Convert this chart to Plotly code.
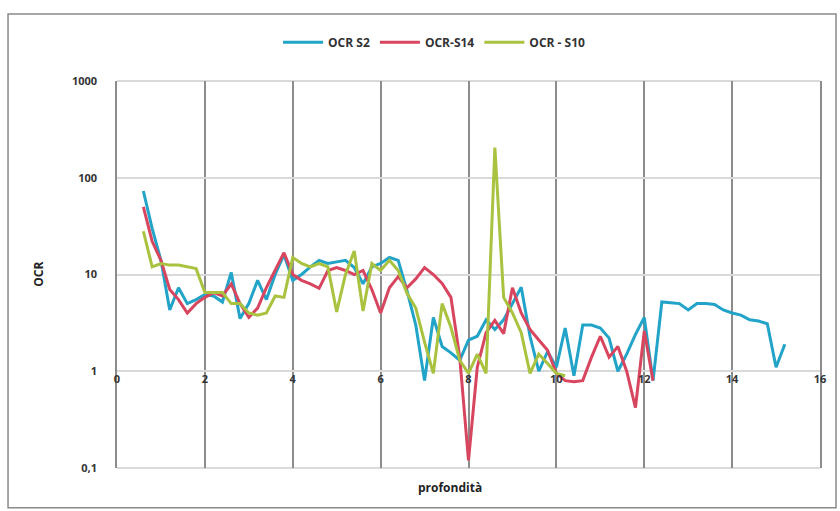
import plotly.graph_objects as go

# ---- data ----
s2_x = [0.6, 0.8, 1.0, 1.2, 1.4, 1.6, 1.8, 2.0, 2.2, 2.4, 2.6, 2.8, 3.0, 3.2, 3.4, 3.6, 3.8,
        4.0, 4.2, 4.4, 4.6, 4.8, 5.0, 5.2, 5.4, 5.6, 5.8, 6.0, 6.2, 6.4, 6.6, 6.8, 7.0, 7.2,
        7.4, 7.6, 7.8, 8.0, 8.2, 8.4, 8.6, 8.8, 9.0, 9.2, 9.4, 9.6, 9.8, 10.0, 10.2, 10.4,
        10.6, 10.8, 11.0, 11.2, 11.4, 11.6, 11.8, 12.0, 12.2, 12.4, 12.6, 12.8, 13.0, 13.2,
        13.4, 13.6, 13.8, 14.0, 14.2, 14.4, 14.6, 14.8, 15.0, 15.2]
s2_y = [73, 30, 14, 4.3, 7.3, 5.0, 5.5, 6.2, 6.0, 5.2, 10.5, 3.5, 5.0, 8.7, 5.5, 10, 16,
        8.7, 10, 12, 14, 13, 13.5, 14, 11.8, 8, 12, 13, 15, 14, 6.8, 3.0, 0.8, 3.6,
        1.8, 1.55, 1.3, 2.1, 2.3, 3.4, 2.7, 3.4, 5.0, 7.4, 2.3, 1.0, 1.6, 1.1, 2.8, 0.9,
        3.0, 3.0, 2.8, 2.2, 1.0, 1.5, 2.4, 3.6, 0.8, 5.2, 5.1, 5.0, 4.3, 5.0,
        5.0, 4.9, 4.3, 4.0, 3.8, 3.4, 3.3, 3.1, 1.1, 1.9]

s14_x = [0.6, 0.8, 1.0, 1.2, 1.4, 1.6, 1.8, 2.0, 2.2, 2.4, 2.6, 2.8, 3.0, 3.2, 3.4, 3.6, 3.8,
         4.0, 4.2, 4.4, 4.6, 4.8, 5.0, 5.2, 5.4, 5.6, 5.8, 6.0, 6.2, 6.4, 6.6, 6.8, 7.0, 7.2,
         7.4, 7.6, 7.8, 8.0, 8.2, 8.4, 8.6, 8.8, 9.0, 9.2, 9.4, 9.6, 9.8, 10.0, 10.2, 10.4,
         10.6, 10.8, 11.0, 11.2, 11.4, 11.6, 11.8, 12.0, 12.2]
s14_y = [50, 22, 14, 7, 5.5, 4.0, 5.0, 5.8, 6.5, 6.0, 8.0, 5.0, 3.6, 4.5, 7.3, 11, 16.8,
         10, 8.7, 8.0, 7.2, 11, 11.8, 11, 10, 11, 7, 4.0, 7.3, 9.5, 7.3, 9, 11.8, 10,
         8.1, 5.8, 1.4, 0.12, 1.1, 2.5, 3.35, 2.45, 7.3, 4.0, 2.7, 2.1, 1.65, 0.95, 0.8, 0.78,
         0.8, 1.4, 2.3, 1.4, 1.8, 1.0, 0.42, 2.6, 0.8]

s10_x = [0.6, 0.8, 1.0, 1.2, 1.4, 1.6, 1.8, 2.0, 2.2, 2.4, 2.6, 2.8, 3.0, 3.2, 3.4, 3.6, 3.8,
         4.0, 4.2, 4.4, 4.6, 4.8, 5.0, 5.2, 5.4, 5.6, 5.8, 6.0, 6.2, 6.4, 6.6, 6.8, 7.0, 7.2,
         7.4, 7.6, 7.8, 8.0, 8.2, 8.4, 8.6, 8.8, 9.0, 9.2, 9.4, 9.6, 9.8, 10.0, 10.2]
s10_y = [28, 12, 13, 12.5, 12.5, 12, 11.5, 6.5, 6.5, 6.5, 5, 5, 4, 3.8, 4, 6, 5.8,
         15, 13, 12, 13, 12, 4.1, 10, 17.5, 4.2, 13, 11, 14, 11, 6.4, 4.5, 2.0, 0.95,
         5, 2.85, 1.3, 0.95, 1.5, 0.95, 205, 5.8, 4, 2.5, 0.95, 1.5, 1.2, 0.95, 0.9]

series_names = ["OCR S2", "OCR-S14", "OCR - S10"]
series_colors = ["#22a3c8", "#d8455f", "#a9c23f"]
y_tick_vals = [0.1, 1, 10, 100, 1000]
y_tick_text = ["0,1", "1", "10", "100", "1000"]
x_tick_vals = [0, 2, 4, 6, 8, 10, 12, 14, 16]

FONT = "Open Sans, Lato, sans-serif"

fig = go.Figure()
for xs, ys, name, col in zip([s2_x, s14_x, s10_x], [s2_y, s14_y, s10_y],
                             series_names, series_colors):
    fig.add_trace(go.Scatter(x=xs, y=ys, mode="lines", name=name,
                             line=dict(color=col, width=3)))

fig.update_layout(
    width=840, height=511,
    margin=dict(l=117, r=20, t=81, b=43),
    paper_bgcolor="white", plot_bgcolor="white",
    font=dict(family=FONT, size=11, color="#333333"),
    showlegend=True,
    legend=dict(orientation="h", x=0.451, xanchor="center", y=1.10, yanchor="middle",
                font=dict(family=FONT, size=12, color="#333333", weight="bold"),
                itemwidth=40, tracegroupgap=0),
    xaxis=dict(range=[0, 16], tickvals=x_tick_vals, showgrid=True,
               gridcolor="#8c8c8c", gridwidth=1.5, zeroline=False, showline=False,
               anchor="free", position=0.25, ticks="",
               tickfont=dict(family=FONT, size=11, color="#333333", weight="bold"),
               title=None),
    yaxis=dict(type="log", range=[-1, 3], tickvals=y_tick_vals, ticktext=y_tick_text,
               showgrid=True, gridcolor="#d9d9d9", gridwidth=2, zeroline=False,
               showline=True, linecolor="#8c8c8c", linewidth=1.5, mirror=True,
               ticks="", ticklabelstandoff=16,
               tickfont=dict(family=FONT, size=11, color="#333333", weight="bold"),
               title=None),
    shapes=[
        dict(type="line", xref="paper", yref="paper", x0=0, x1=1, y0=0, y1=0,
             line=dict(color="#d9d9d9", width=2), layer="below"),
        dict(type="line", xref="paper", yref="paper", x0=0, x1=1, y0=1, y1=1,
             line=dict(color="#d9d9d9", width=2), layer="below"),
        dict(type="rect", xref="paper", yref="paper",
             x0=-0.155, x1=1.0228, y0=-0.103, y1=1.173,
             line=dict(color="#8a8a8a", width=1.5), layer="below"),
    ],
    annotations=[
        dict(text="profondità", xref="paper", yref="paper", x=0.473, y=-0.05,
             xanchor="center", yanchor="middle", showarrow=False,
             font=dict(family=FONT, size=12, color="#222222", weight="bold")),
        dict(text="OCR", xref="paper", yref="paper", x=-0.112, y=0.5, textangle=-90,
             xanchor="center", yanchor="middle", showarrow=False,
             font=dict(family=FONT, size=12, color="#222222", weight="bold")),
    ],
)

fig.write_html("out.html")
